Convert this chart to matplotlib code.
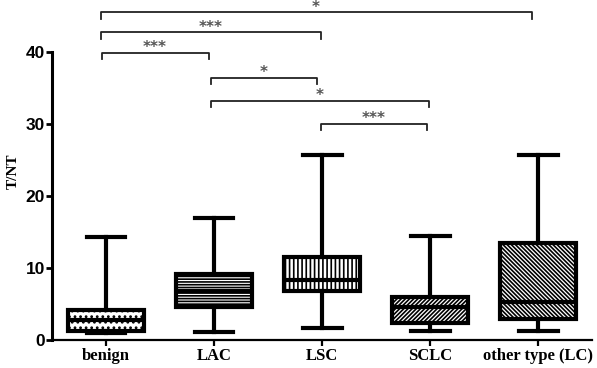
"""T/NT ratio by histology, box plot with significance brackets."""
import matplotlib
matplotlib.use("Agg")
import matplotlib.pyplot as plt

groups = ["benign", "LAC", "LSC", "SCLC", "other type (LC)"]
whislo = [1.0, 1.1, 1.7, 1.2, 1.25]
q1 = [1.25, 4.6, 6.8, 2.4, 2.9]
med = [2.8, 6.8, 8.3, 4.6, 5.3]
q3 = [4.2, 9.2, 11.5, 6.0, 13.5]
whishi = [14.3, 17.0, 25.7, 14.4, 25.7]
hatches = ["...", "------", "||||", "////////", "\\\\\\\\\\\\\\\\"]

# significance brackets: (left x, right x, height, label)
br_left = [0.95, 0.95, 0.96, 1.97, 1.97, 2.99]
br_right = [4.94, 2.99, 1.95, 2.95, 3.99, 3.97]
br_y = [45.5, 42.7, 39.9, 36.4, 33.2, 30.0]
br_text = ["*", "***", "***", "*", "*", "***"]

plt.rcParams["hatch.linewidth"] = 1.2
plt.rcParams["hatch.color"] = "black"

fig = plt.figure(figsize=(5.97, 3.68), dpi=100)
ax = fig.add_axes([0.087, 0.076, 0.905, 0.92])

stats = [dict(whislo=a, q1=b, med=c, q3=d, whishi=e, fliers=[])
         for a, b, c, d, e in zip(whislo, q1, med, q3, whishi)]
lw = 3.0
bp = ax.bxp(stats, positions=range(1, 6), widths=0.7, capwidths=0.36,
            patch_artist=True, showfliers=False,
            boxprops=dict(linewidth=lw, edgecolor="black"),
            whiskerprops=dict(linewidth=lw, color="black"),
            capprops=dict(linewidth=lw, color="black"),
            medianprops=dict(linewidth=lw, color="black"))
for patch, h in zip(bp["boxes"], hatches):
    patch.set_facecolor("white")
    patch.set_hatch(h)

tip = 0.9
for x0, x1, y, t in zip(br_left, br_right, br_y, br_text):
    ax.plot([x0, x0, x1, x1], [y - tip, y, y, y - tip], color="#222222",
            linewidth=1.3, clip_on=False)
    ax.text((x0 + x1) / 2, y + 0.1, t, ha="center", va="baseline",
            fontsize=11, color="#555555", fontweight="bold")

ax.set_xlim(0.5, 5.5)
ax.set_ylim(0, 47)
ax.set_yticks([0, 10, 20, 30, 40])
ax.spines["left"].set_bounds(0, 40)
ax.spines["left"].set_linewidth(2.2)
ax.spines["bottom"].set_linewidth(1.6)
ax.spines["top"].set_visible(False)
ax.spines["right"].set_visible(False)
ax.tick_params(axis="y", width=2, length=4, labelsize=12.5, pad=1)
ax.tick_params(axis="x", width=1.6, length=4, pad=2)
for lab in ax.get_yticklabels():
    lab.set_fontweight("bold")
    lab.set_family("Liberation Sans")
ax.set_xticks(range(1, 6))
ax.set_xticklabels(groups, family="Liberation Serif", fontweight="bold",
                   fontsize=12)
ax.set_ylabel("T/NT", family="Liberation Serif", fontweight="bold",
              fontsize=11, labelpad=4)

fig.savefig("out.png", dpi=100)
